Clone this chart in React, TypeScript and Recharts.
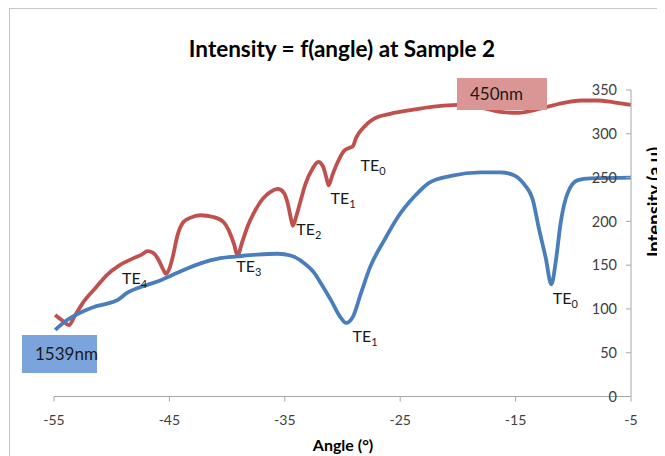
import React from "react";
import { LineChart, Line, XAxis, YAxis, ReferenceDot } from "recharts";

// Angle (deg) / intensity (a.u.) samples for each wavelength
const red450x = [-54.9, -54.2, -53.7, -53.2, -52.5, -51.4, -50.4, -49.3, -48.1, -47.4, -46.9, -46.4, -45.9, -45.5, -45.3, -45.0, -44.7, -44.3, -43.8, -43.2, -42.3, -41.2, -40.3, -39.8, -39.4, -39.1, -38.7, -38.2, -37.7, -36.9, -36.2, -35.6, -35.1, -34.7, -34.5, -34.3, -34.0, -33.6, -33.2, -32.6, -32.1, -31.7, -31.4, -31.2, -30.9, -30.4, -29.9, -29.4, -29.1, -28.8, -28.2, -27.3, -25.8, -24.1, -22.1, -20.0, -18.0, -16.3, -14.8, -12.8, -11.3, -9.3, -7.9, -6.5, -5.0];
const red450y = [93, 86, 81.5, 92, 107, 124, 139, 150, 158, 162, 166, 164, 155, 144, 140, 146, 160, 184, 199, 204, 207, 205, 199, 188, 174, 161, 176, 195, 209, 226, 234, 237, 233, 218, 205, 195, 206, 225, 243, 260, 268, 263, 250, 241, 252, 268, 280, 284, 286, 296, 307, 317, 323, 327, 331, 333, 330, 325, 324, 329, 334, 338, 338, 336, 333];

const blue1539x = [-54.9, -53.9, -52.7, -51.6, -50.4, -49.5, -48.7, -47.5, -46.1, -44.7, -43.5, -42.3, -40.6, -39.1, -37.4, -35.6, -34.5, -33.4, -32.5, -31.9, -31.0, -30.2, -29.7, -29.1, -28.4, -27.6, -26.4, -25.2, -23.8, -22.5, -20.6, -18.0, -16.3, -15.2, -14.3, -13.5, -13.0, -12.4, -11.9, -11.5, -11.1, -10.5, -9.6, -8.5, -5.0];
const blue1539y = [76, 87, 96, 102, 106, 110, 118, 125, 131, 139, 146, 152, 158, 160, 162, 163, 161, 153, 142, 130, 110, 91, 84, 91, 118, 148, 178, 205, 228, 244, 252, 256, 256, 253, 243, 224, 193, 159, 128, 156, 198, 232, 247, 249, 250];

const xTicks = [-55, -45, -35, -25, -15, -5];
const yTicks = [0, 50, 100, 150, 200, 250, 300, 350];

// Mode labels: anchor (angle, intensity), mode order
const modeLabels = [
  { x: -49.1, y: 128.8, order: "4" },
  { x: -39.2, y: 142, order: "3" },
  { x: -34.0, y: 184, order: "2" },
  { x: -31.04, y: 219.5, order: "1" },
  { x: -28.44, y: 257, order: "0" },
  { x: -29.13, y: 62.2, order: "1" },
  { x: -11.77, y: 105.5, order: "0" },
];

const red450 = red450x.map((x, i) => ({ x, y: red450y[i] }));
const blue1539 = blue1539x.map((x, i) => ({ x, y: blue1539y[i] }));

const FONT = "Lato, 'Open Sans', sans-serif";
const RED = "#c0504d";
const BLUE = "#4a7ebb";
const AXIS = "#a6a6a6";

const modeLabel = (order: string) => (props: any) => {
  const vb = props.viewBox || {};
  return (
    <text x={vb.x} y={vb.y} fontFamily={FONT} fontSize={16} fill="#1a1a1a">
      TE
      <tspan dy={4} fontSize={11}>{order}</tspan>
    </text>
  );
};

export default function App() {
  return (
    <div style={{ position: "relative", width: 657, height: 448, background: "#fff", overflow: "hidden" }}>
      <div
        style={{
          position: "absolute",
          left: 1,
          top: 0,
          width: 700,
          height: 500,
          borderLeft: "1px solid #c8c8c8",
          borderTop: "1px solid #c8c8c8",
        }}
      />
      <LineChart width={657} height={448} margin={{ top: 82, right: 34, bottom: 29.5, left: 46 }}>
        <XAxis
          type="number"
          dataKey="x"
          domain={[-55, -5]}
          ticks={xTicks}
          height={30}
          tickSize={5}
          tickMargin={14}
          stroke={AXIS}
          tick={{ fontFamily: FONT, fontSize: 14, fill: "#404040" }}
        />
        <YAxis
          type="number"
          dataKey="y"
          orientation="right"
          mirror
          width={1}
          domain={[0, 350]}
          ticks={yTicks}
          interval={0}
          tickSize={5}
          tickMargin={9}
          stroke={AXIS}
          tick={{ fontFamily: FONT, fontSize: 14.5, fill: "#404040" }}
        />
        <Line
          data={red450}
          dataKey="y"
          type="monotone"
          stroke={RED}
          strokeWidth={3.8}
          dot={false}
          isAnimationActive={false}
        />
        <Line
          data={blue1539}
          dataKey="y"
          type="monotone"
          stroke={BLUE}
          strokeWidth={3.8}
          dot={false}
          isAnimationActive={false}
        />
        {modeLabels.map((m, i) => (
          <ReferenceDot
            key={i}
            x={m.x}
            y={m.y}
            r={0}
            fill="none"
            stroke="none"
            label={{ content: modeLabel(m.order) }}
          />
        ))}
      </LineChart>
      <svg
        width={657}
        height={448}
        style={{ position: "absolute", left: 0, top: 0, pointerEvents: "none" }}
      >
        <text x={334} y={49} textAnchor="middle" fontFamily={FONT} fontWeight="bold" fontSize={22.5} fill="#000">
          Intensity = f(angle) at Sample 2
        </text>
        <text x={335} y={443} textAnchor="middle" fontFamily={FONT} fontWeight="bold" fontSize={16} fill="#000">
          Angle (°)
        </text>
        <g transform="translate(653 194) rotate(-90)">
          <text x={0} y={0} textAnchor="middle" fontFamily={FONT} fontWeight="bold" fontSize={18.5} fill="#000">
            Intensity (a.u)
          </text>
        </g>
      </svg>
      <div
        style={{
          position: "absolute",
          left: 449,
          top: 70,
          width: 90,
          height: 32,
          background: "#d99694",
          fontFamily: FONT,
          fontSize: 17,
          color: "#1a1a1a",
          lineHeight: "32px",
          paddingLeft: 13,
          boxSizing: "border-box",
          whiteSpace: "nowrap",
        }}
      >
        450nm
      </div>
      <div
        style={{
          position: "absolute",
          left: 14,
          top: 327,
          width: 75,
          height: 38,
          background: "#7ba4dc",
          fontFamily: FONT,
          fontSize: 17,
          color: "#1a1a1a",
          lineHeight: "38px",
          paddingLeft: 13,
          boxSizing: "border-box",
          whiteSpace: "nowrap",
        }}
      >
        1539nm
      </div>
    </div>
  );
}
